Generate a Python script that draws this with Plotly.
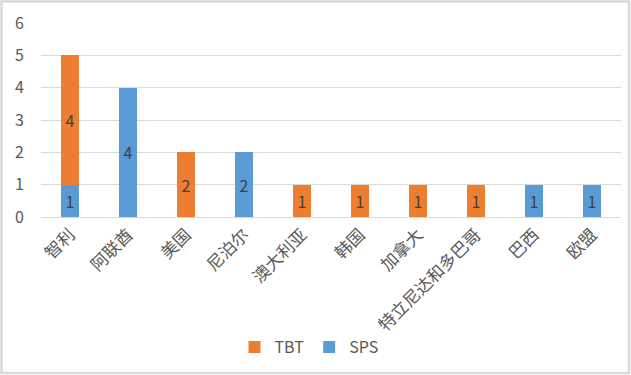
import plotly.graph_objects as go

categories = ["智利", "阿联酋", "美国", "尼泊尔", "澳大利亚", "韩国", "加拿大", "特立尼达和多巴哥", "巴西", "欧盟"]
sps_values = [1, 4, 0, 2, 0, 0, 0, 0, 1, 1]
tbt_values = [4, 0, 2, 0, 1, 1, 1, 1, 0, 0]
y_ticks = [0, 1, 2, 3, 4, 5, 6]

W, H = 631, 375
L, R, T, B = 41, 10, 23, 158
pw = W - L - R
ph = H - T - B

def px_to_paper_x(px):
    return (px - L) / pw

def px_to_paper_y(py):
    return (H - B - py) / ph

def labels(vals):
    return [str(v) if v else "" for v in vals]

def clean(vals):
    return [v if v else None for v in vals]

font_family = "Noto Sans CJK SC, Noto Sans, sans-serif"

fig = go.Figure()
fig.add_trace(go.Bar(
    name="SPS", x=categories, y=clean(sps_values), text=labels(sps_values),
    marker=dict(color="#5b9bd5", line=dict(width=0)),
    textposition="inside", insidetextanchor="middle",
    textfont=dict(color="#404040", size=16, family=font_family),
))
fig.add_trace(go.Bar(
    name="TBT", x=categories, y=clean(tbt_values), text=labels(tbt_values),
    marker=dict(color="#ed7d31", line=dict(width=0)),
    textposition="inside", insidetextanchor="middle",
    textfont=dict(color="#404040", size=16, family=font_family),
))

fig.update_layout(
    width=W, height=H,
    margin=dict(l=L, r=R, t=T, b=B, autoexpand=False),
    barmode="stack", bargap=0.69,
    plot_bgcolor="white", paper_bgcolor="white",
    font=dict(family=font_family, color="#595959", size=14),
    uniformtext=dict(mode="show", minsize=10),
    xaxis=dict(
        tickangle=-45, showgrid=False, showline=True, linecolor="#d9d9d9", linewidth=1,
        ticks="", tickfont=dict(size=17, color="#595959"), fixedrange=True, automargin=False,
    ),
    yaxis=dict(
        range=[0, 6], tickvals=y_ticks, showgrid=True, gridcolor="#d9d9d9", gridwidth=1,
        zeroline=False, showline=False, ticks="", ticklabelstandoff=16, automargin=False,
        tickfont=dict(size=16, color="#595959"), fixedrange=True,
    ),
    legend=dict(
        orientation="h", traceorder="reversed",
        x=px_to_paper_x(309), xanchor="center",
        y=px_to_paper_y(347), yanchor="middle",
        font=dict(size=16, color="#595959"),
        itemwidth=30,
    ),
    showlegend=True,
)

fig.add_shape(
    type="rect", xref="paper", yref="paper",
    x0=px_to_paper_x(1.5), x1=px_to_paper_x(629),
    y0=px_to_paper_y(1.5), y1=px_to_paper_y(373),
    line=dict(color="#d9d9d9", width=2.5), fillcolor="rgba(0,0,0,0)", layer="above",
)

fig.write_html(
    "out.html",
    config={"displayModeBar": False},
    post_script="document.body.style.margin='0';document.body.style.overflow='hidden';",
)
